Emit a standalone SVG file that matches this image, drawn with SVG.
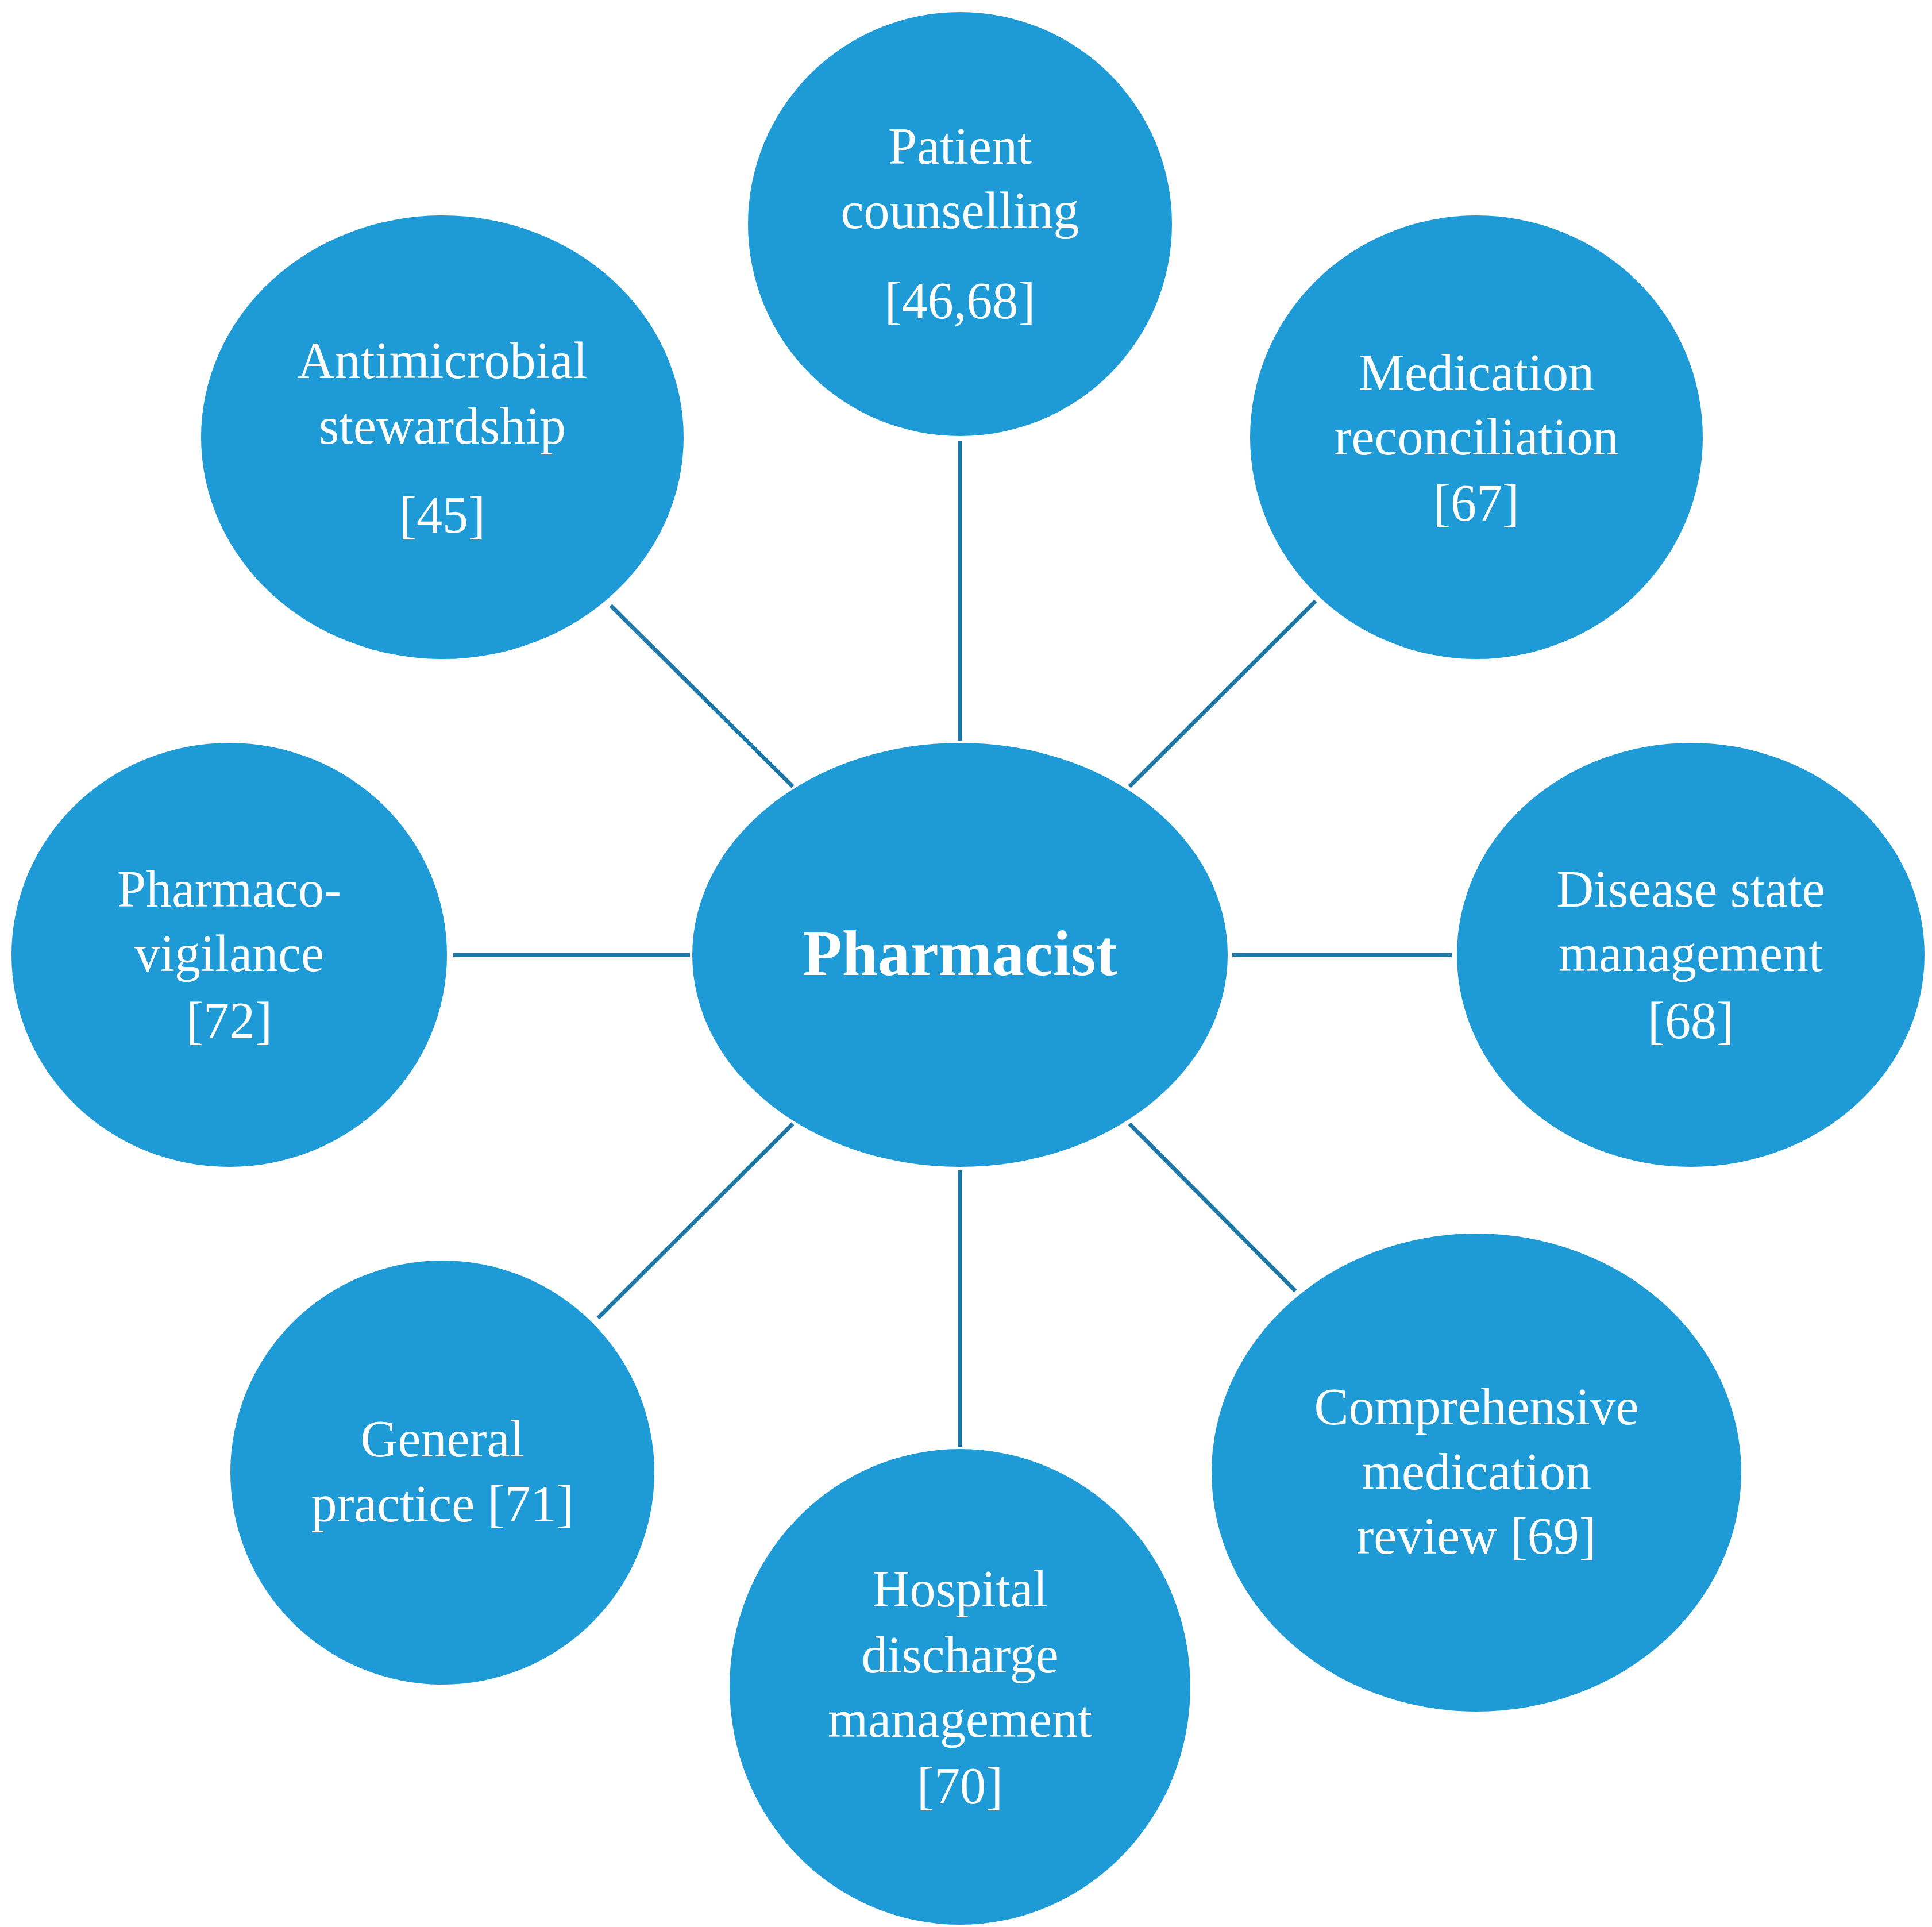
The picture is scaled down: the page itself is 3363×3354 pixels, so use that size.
<svg xmlns="http://www.w3.org/2000/svg" width="3363" height="3354" viewBox="0 0 3363 3354">
<style>
.n{fill:#1e9bd7}
.t{fill:#fff;font-family:"Liberation Serif","Times New Roman",serif;font-size:90px;text-anchor:middle}
.b{font-weight:bold;font-size:112px}
#connectors line{stroke:#1a77a8;stroke-width:7}
</style>
<rect width="3363" height="3354" fill="#fff"/>
<g id="connectors">
<line x1="1671" y1="768" x2="1671" y2="1289"/>
<line x1="1966" y1="1369" x2="2290" y2="1046"/>
<line x1="2145" y1="1662" x2="2527" y2="1662"/>
<line x1="1966" y1="1956" x2="2255" y2="2247"/>
<line x1="1671" y1="2037" x2="1671" y2="2518"/>
<line x1="1380" y1="1956" x2="1041" y2="2294"/>
<line x1="789" y1="1662" x2="1201" y2="1662"/>
<line x1="1380" y1="1369" x2="1063" y2="1054"/>
</g>
<g id="pharmacist"><ellipse class="n" cx="1671" cy="1662" rx="466" ry="369"/><text class="t b" x="1671" y="1697">Pharmacist</text></g>
<g id="patient"><ellipse class="n" cx="1671" cy="390" rx="369" ry="369"/><text class="t" x="1671" y="285">Patient</text><text class="t" x="1671" y="397">counselling</text><text class="t" x="1671" y="554">[46,68]</text></g>
<g id="medrec"><ellipse class="n" cx="2570" cy="761" rx="394" ry="386"/><text class="t" x="2570" y="679">Medication</text><text class="t" x="2570" y="791">reconciliation</text><text class="t" x="2570" y="906">[67]</text></g>
<g id="disease"><ellipse class="n" cx="2943" cy="1662" rx="407" ry="369"/><text class="t" x="2943" y="1578">Disease state</text><text class="t" x="2943" y="1690">management</text><text class="t" x="2943" y="1807">[68]</text></g>
<g id="cmr"><ellipse class="n" cx="2570" cy="2563" rx="461" ry="416"/><text class="t" x="2570" y="2479">Comprehensive</text><text class="t" x="2570" y="2592">medication</text><text class="t" x="2570" y="2704">review [69]</text></g>
<g id="hospital"><ellipse class="n" cx="1671" cy="2936" rx="401" ry="414"/><text class="t" x="1671" y="2796">Hospital</text><text class="t" x="1671" y="2911">discharge</text><text class="t" x="1671" y="3023">management</text><text class="t" x="1671" y="3139">[70]</text></g>
<g id="general"><ellipse class="n" cx="770" cy="2563" rx="369" ry="369"/><text class="t" x="770" y="2535">General</text><text class="t" x="770" y="2648">practice [71]</text></g>
<g id="pv"><ellipse class="n" cx="399" cy="1662" rx="379" ry="369"/><text class="t" x="399" y="1578">Pharmaco-</text><text class="t" x="399" y="1690">vigilance</text><text class="t" x="399" y="1807">[72]</text></g>
<g id="ams"><ellipse class="n" cx="770" cy="761" rx="420" ry="386"/><text class="t" x="770" y="658">Antimicrobial</text><text class="t" x="770" y="772">stewardship</text><text class="t" x="770" y="927">[45]</text></g>
</svg>
